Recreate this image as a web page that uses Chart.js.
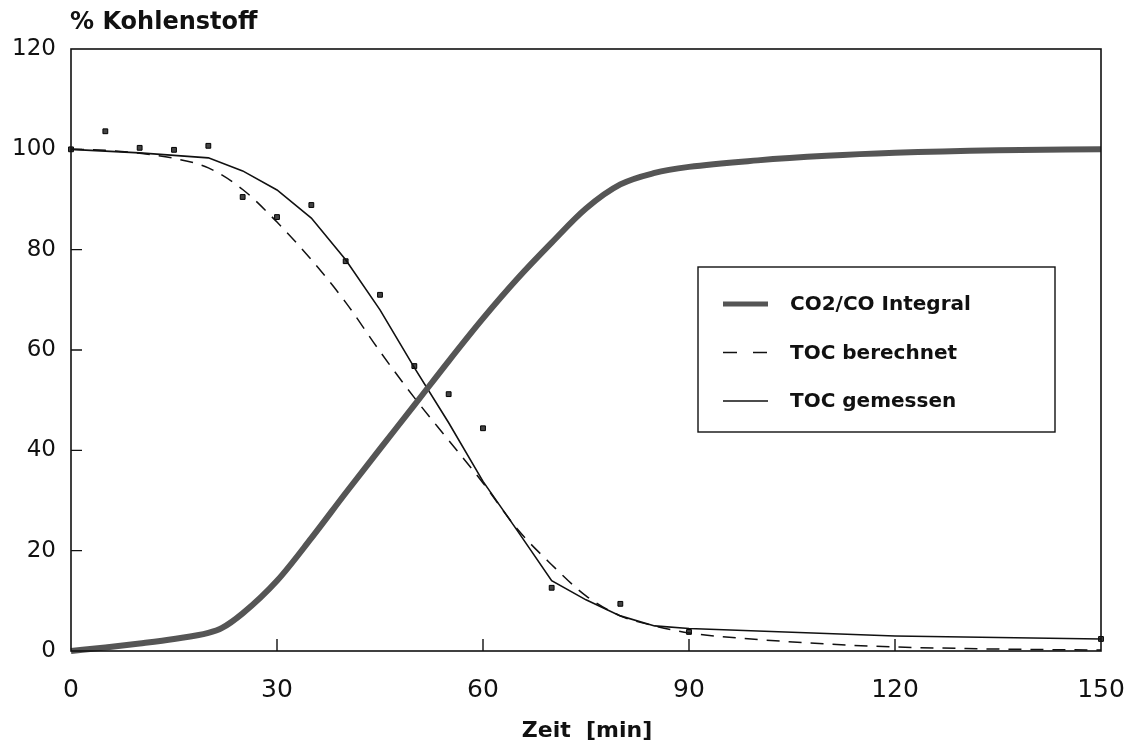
<!DOCTYPE html>
<html>
<head>
<meta charset="utf-8">
<script src="https://cdn.jsdelivr.net/npm/chart.js@4"></script>
<style>
    body { margin: 0; background: #fff; }
    #wrap { width: 1131px; height: 747px; }
</style>
</head>
<body>
<div id="wrap"><canvas id="myChart"></canvas></div>
<script>
// TOC Messpunkte
const messZeit = [0, 5, 10, 15, 20, 25, 30, 35, 40, 45, 50, 55, 60, 70, 80, 90, 150];
const messWerte = [100, 103.6, 100.3, 99.9, 100.7, 90.5, 86.5, 88.9, 77.7, 71, 56.8, 51.2, 44.4, 12.6, 9.4, 3.8, 2.4];

// TOC gemessen (Linie)
const gemessenZeit = [0, 10, 20, 25, 30, 35, 40, 45, 50, 55, 60, 65, 70, 75, 80, 85, 90, 120, 150];
const gemessenWerte = [100, 99.3, 98.3, 95.7, 91.9, 86.3, 78, 68, 56.5, 45.5, 33.8, 24, 14, 10.2, 7, 5, 4.5, 3.0, 2.4];

// TOC berechnet
const berechnetZeit = [0, 5, 10, 15, 20, 25, 30, 35, 40, 45, 50, 55, 60, 65, 70, 75, 80, 85, 90, 100, 110, 120, 130, 140, 150];
const berechnetWerte = [100, 99.8, 99.2, 98.2, 96.3, 92, 85.5, 78, 69.5, 59.7, 50.5, 42, 33.5, 24.3, 17.2, 11, 7, 5, 3.6, 2.3, 1.4, 0.8, 0.5, 0.3, 0.2];

// CO2/CO Integral
const integralZeit = [0, 5, 10, 15, 20, 22, 25, 30, 35, 40, 45, 50, 55, 60, 65, 70, 75, 80, 85, 90, 100, 110, 120, 135, 150];
const integralWerte = [0, 0.7, 1.5, 2.4, 3.6, 4.6, 7.5, 14, 22.5, 31.5, 40.3, 49, 57.8, 66.3, 74.2, 81.4, 88.2, 93, 95.3, 96.5, 97.8, 98.7, 99.3, 99.8, 100];

const xTicks = [0, 30, 60, 90, 120, 150];
const yTicks = [0, 20, 40, 60, 80, 100, 120];

const FONT = "'DejaVu Sans', sans-serif";

function punkte(zeit, werte) {
    return zeit.map((t, i) => ({x: t, y: werte[i]}));
}

const legendeItems = [
    {label: 'CO2/CO Integral', type: 'thick'},
    {label: 'TOC berechnet', type: 'dash'},
    {label: 'TOC gemessen', type: 'solid'}
];

// Rahmen, Innenticks, Titel und Legende
const extras = {
    id: 'extras',
    afterDraw(chart) {
        const ctx = chart.ctx;
        const a = chart.chartArea;
        const xs = chart.scales.x;
        const ys = chart.scales.y;
        ctx.save();
        ctx.strokeStyle = '#111';
        ctx.lineWidth = 1.6;
        ctx.strokeRect(a.left, a.top, a.right - a.left, a.bottom - a.top);

        ctx.lineWidth = 1.4;
        ctx.beginPath();
        xTicks.slice(1, -1).forEach(v => {
            const px = xs.getPixelForValue(v);
            ctx.moveTo(px, a.bottom);
            ctx.lineTo(px, a.bottom - 12);
        });
        yTicks.slice(1, -1).forEach(v => {
            const py = ys.getPixelForValue(v);
            ctx.moveTo(a.left, py);
            ctx.lineTo(a.left + 11, py);
        });
        ctx.stroke();

        ctx.fillStyle = '#111';
        ctx.font = 'bold 24px ' + FONT;
        ctx.textBaseline = 'middle';
        ctx.textAlign = 'left';
        ctx.fillText('% Kohlenstoff', 70, 23);

        ctx.font = 'bold 22px ' + FONT;
        ctx.textAlign = 'center';
        ctx.fillText('Zeit  [min]', 587, 731);

        // Legende
        const bx = a.left + 627, by = a.top + 218, bw = 357, bh = 165;
        ctx.fillStyle = '#fff';
        ctx.fillRect(bx, by, bw, bh);
        ctx.lineWidth = 1.4;
        ctx.strokeRect(bx, by, bw, bh);
        ctx.font = 'bold 20px ' + FONT;
        ctx.textAlign = 'left';
        ctx.fillStyle = '#111';
        legendeItems.forEach((it, i) => {
            const cy = by + 37 + i * 48.5;
            ctx.beginPath();
            if (it.type === 'thick') {
                ctx.strokeStyle = '#555';
                ctx.lineWidth = 5;
            } else {
                ctx.strokeStyle = '#111';
                ctx.lineWidth = 1.5;
            }
            if (it.type === 'dash') {
                ctx.moveTo(bx + 25, cy);
                ctx.lineTo(bx + 39, cy);
                ctx.moveTo(bx + 55, cy);
                ctx.lineTo(bx + 69, cy);
            } else {
                ctx.moveTo(bx + 25, cy);
                ctx.lineTo(bx + 70, cy);
            }
            ctx.stroke();
            ctx.fillText(it.label, bx + 92, cy + 1);
        });
        ctx.restore();
    }
};

const myChart = new Chart(document.getElementById('myChart').getContext('2d'), {
    type: 'line',
    data: {
        datasets: [
            {
                label: 'CO2/CO Integral',
                data: punkte(integralZeit, integralWerte),
                borderColor: '#555',
                borderWidth: 6,
                pointRadius: 0,
                fill: false,
                cubicInterpolationMode: 'monotone'
            },
            {
                label: 'TOC berechnet',
                data: punkte(berechnetZeit, berechnetWerte),
                borderColor: '#111',
                borderWidth: 1.5,
                borderDash: [13, 9],
                pointRadius: 0,
                fill: false,
                cubicInterpolationMode: 'monotone'
            },
            {
                label: 'TOC gemessen',
                data: punkte(gemessenZeit, gemessenWerte),
                borderColor: '#111',
                borderWidth: 1.6,
                pointRadius: 0,
                fill: false,
                tension: 0
            },
            {
                label: 'Messpunkte',
                data: punkte(messZeit, messWerte),
                showLine: false,
                pointStyle: 'rect',
                pointRadius: 3.4,
                pointBackgroundColor: '#444',
                pointBorderColor: '#000',
                pointBorderWidth: 1
            }
        ]
    },
    options: {
        responsive: true,
        maintainAspectRatio: false,
        animation: false,
        clip: false,
        layout: { padding: { left: 0, right: 30, top: 49, bottom: 0 } },
        plugins: {
            legend: { display: false },
            tooltip: { enabled: false }
        },
        scales: {
            x: {
                type: 'linear',
                min: 0,
                max: 150,
                afterBuildTicks: (s) => { s.ticks = xTicks.map(v => ({value: v})); },
                afterFit: (s) => { s.height = 96; s.paddingLeft = 0; s.paddingRight = 0; },
                grid: { display: false, drawTicks: false },
                border: { display: false },
                ticks: { color: '#111', font: { family: FONT, size: 25 }, padding: 24, maxRotation: 0 }
            },
            y: {
                min: 0,
                max: 120,
                afterBuildTicks: (s) => { s.ticks = yTicks.map(v => ({value: v})); },
                afterFit: (s) => { s.width = 71; s.paddingTop = 0; s.paddingBottom = 0; },
                grid: { display: false, drawTicks: false },
                border: { display: false },
                ticks: { color: '#111', font: { family: FONT, size: 23 }, padding: 15 }
            }
        }
    },
    plugins: [extras]
});
</script>
</body>
</html>
